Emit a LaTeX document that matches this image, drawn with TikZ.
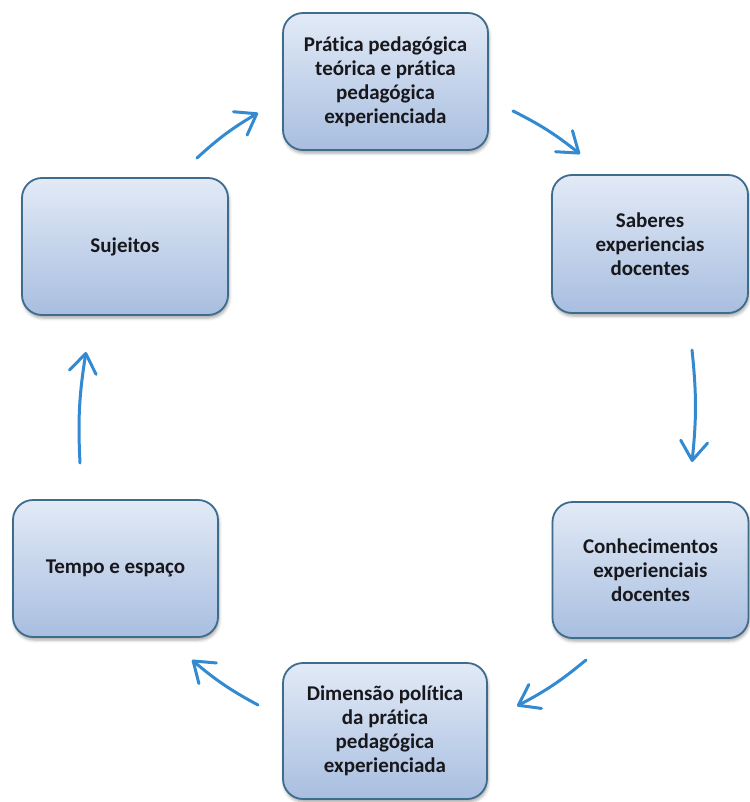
\documentclass[tikz,border=0pt]{standalone}
\usepackage{fontspec}
\setmainfont{Carlito}[Ligatures=NoCommon]
\usetikzlibrary{arrows.meta,shadows.blur}
\definecolor{boxtop}{RGB}{226,234,246}
\definecolor{boxbot}{RGB}{168,190,224}
\definecolor{boxedge}{RGB}{62,108,140}
\definecolor{arrowblue}{RGB}{52,138,208}
\definecolor{txt}{RGB}{24,24,28}
\tikzset{
  cyclebox/.style={rounded corners=20pt, draw=boxedge, line width=1.8pt,
    top color=boxtop, bottom color=boxbot, align=center,
    font=\fontsize{21}{24}\selectfont\bfseries, text=txt, inner sep=0pt,
    blur shadow={shadow xshift=1pt, shadow yshift=-3pt, shadow blur radius=3pt, shadow opacity=35}},
  flow/.style={draw=arrowblue, line width=3pt, line cap=round,
    -{Straight Barb[length=19pt,width=27pt,line width=3pt,round]}, bend left=6}
}
\begin{document}
\begin{tikzpicture}[x=1pt,y=-1pt]
\useasboundingbox (0,0) rectangle (749,802);

% the six stages of the cycle
\node[cyclebox, minimum width=205pt, minimum height=137pt] (pratica) at (385.5,81.5)
  {Prática pedagógica\\teórica e prática\\pedagógica\\experienciada};
\node[cyclebox, minimum width=196pt, minimum height=138pt] (saberes) at (650,244)
  {Saberes\\experiencias\\docentes};
\node[cyclebox, minimum width=196pt, minimum height=136pt] (conhec) at (650.5,570)
  {Conhecimentos\\experienciais\\docentes};
\node[cyclebox, minimum width=204pt, minimum height=136pt] (dimensao) at (385,731)
  {Dimensão política\\da prática\\pedagógica\\experienciada};
\node[cyclebox, minimum width=205pt, minimum height=137pt] (tempo) at (115.5,568.5)
  {Tempo e espaço};
\node[cyclebox, minimum width=206pt, minimum height=137pt] (sujeitos) at (125,246.5)
  {Sujeitos};

% arrow end points in the gaps between the boxes
\coordinate (a1s) at (197,158);  \coordinate (a1e) at (258,113);
\coordinate (a2s) at (513,111);  \coordinate (a2e) at (580,154);
\coordinate (a3s) at (692,350);  \coordinate (a3e) at (692,462);
\coordinate (a4s) at (586,660);  \coordinate (a4e) at (517,706);
\coordinate (a5s) at (258,705);  \coordinate (a5e) at (192,660);
\coordinate (a6s) at (80,463);   \coordinate (a6e) at (86,352);

\draw[flow] (a1s) to (a1e);
\draw[flow] (a2s) to (a2e);
\draw[flow] (a3s) to (a3e);
\draw[flow] (a4s) to (a4e);
\draw[flow] (a5s) to (a5e);
\draw[flow] (a6s) to (a6e);
\end{tikzpicture}
\end{document}
